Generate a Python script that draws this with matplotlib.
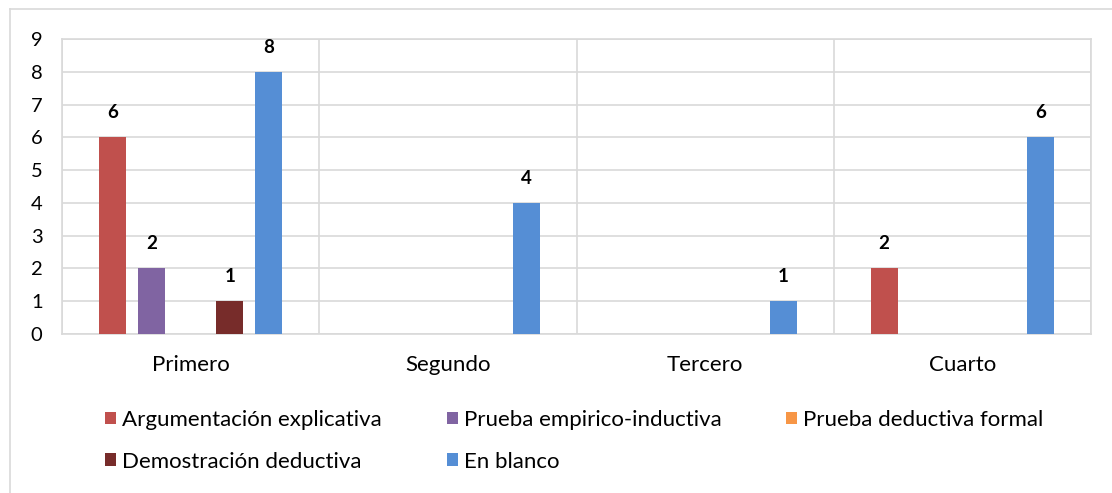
import matplotlib
matplotlib.use("Agg")
import matplotlib.pyplot as plt
from matplotlib.patches import Patch
from matplotlib.lines import Line2D
import numpy as np

plt.rcParams['font.family'] = ['Lato', 'DejaVu Sans']

categories = ["Primero", "Segundo", "Tercero", "Cuarto"]
series_names = ["Argumentación explicativa", "Prueba empirico-inductiva",
                "Prueba deductiva formal", "Demostración deductiva", "En blanco"]
argumentacion = [6, 0, 0, 2]
prueba_empirica = [2, 0, 0, 0]
prueba_deductiva = [0, 0, 0, 0]
demostracion = [1, 0, 0, 0]
en_blanco = [8, 4, 1, 6]
y_ticks = list(range(0, 10))

series_values = [argumentacion, prueba_empirica, prueba_deductiva, demostracion, en_blanco]
colors = ["#C0504D", "#8064A2", "#F79646", "#772C2A", "#558ED5"]

W, H = 1112, 493
fig = plt.figure(figsize=(W / 100, H / 100), dpi=100)
ax = fig.add_axes([62 / W, (H - 334) / H, (1091 - 62) / W, (334 - 39) / H])

x = np.arange(len(categories))
step = 0.152
width = 0.105
for i, (vals, c) in enumerate(zip(series_values, colors)):
    pos = x + (i - 2) * step
    ax.bar(pos, vals, width=width, color=c, zorder=3)
    for p, v in zip(pos, vals):
        if v != 0:
            ax.annotate(str(v), (p, v), xytext=(0, 11.5), textcoords="offset points",
                        ha="center", va="bottom", fontsize=13.5, fontweight="bold",
                        color="black")

ax.set_xlim(-0.5, len(categories) - 0.5)
ax.set_ylim(0, 9)
ax.set_yticks(y_ticks)
ax.set_yticklabels([str(t) for t in y_ticks], fontsize=14.5)
ax.set_xticks(x)
ax.set_xticklabels(categories, fontsize=16)
ax.tick_params(axis="both", length=0, colors="#000000")
ax.tick_params(axis="y", pad=14)
ax.tick_params(axis="x", pad=15)
ax.grid(axis="y", color="#D9D9D9", linewidth=1.2, zorder=0)
for b in np.arange(-0.5, len(categories) + 0.5, 1.0):
    ax.axvline(b, color="#D9D9D9", linewidth=1.2, zorder=1)
for s in ax.spines.values():
    s.set_color("#D9D9D9")
    s.set_linewidth(1.2)

# legend: rows Arg, Emp, Ded / Demo, Blanco
order = [0, 3, 1, 4, 2]
handles = [Patch(facecolor=colors[k], edgecolor="none") for k in order]
labels = [series_names[k] for k in order]
fig.legend(handles, labels, loc="upper left", bbox_to_anchor=(105 / W, 1 - 410 / H),
           ncol=3, frameon=False, fontsize=16, handlelength=0.5, handleheight=0.5,
           handletextpad=0.28, columnspacing=2.9, labelspacing=0.97, borderaxespad=0,
           borderpad=0)

# outer chart border (top and left visible)
fig.add_artist(Line2D([10 / W, 1.0], [1 - 9 / H, 1 - 9 / H], transform=fig.transFigure,
                      color="#D9D9D9", linewidth=1.2))
fig.add_artist(Line2D([10 / W, 10 / W], [0, 1 - 9 / H], transform=fig.transFigure,
                      color="#D9D9D9", linewidth=1.2))

fig.savefig("out.png", dpi=100)
